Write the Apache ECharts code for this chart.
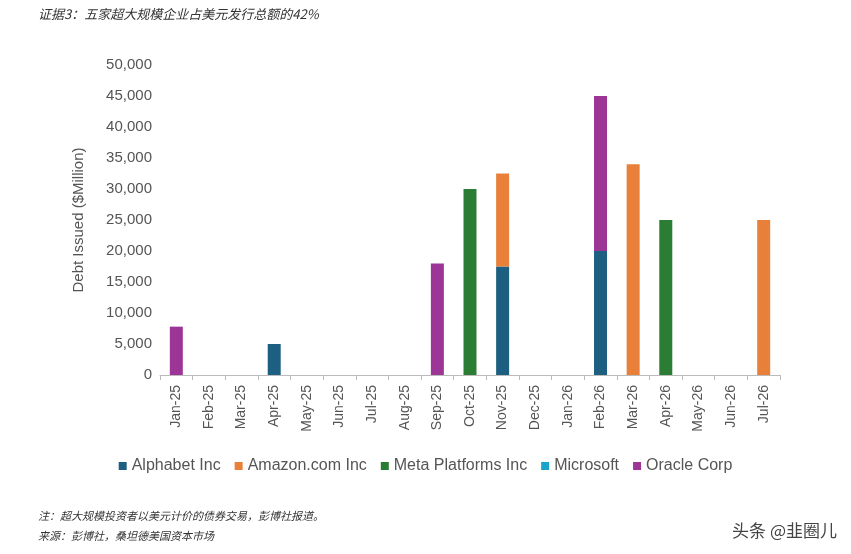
<!DOCTYPE html>
<html><head><meta charset="utf-8">
<script src="https://cdn.jsdelivr.net/npm/echarts@6/dist/echarts.min.js"></script>
<style>html,body{margin:0;padding:0;background:#fff}#c{width:851px;height:554px}</style>
</head><body><div id="c"></div>
<script>
const categories = ['Jan-25','Feb-25','Mar-25','Apr-25','May-25','Jun-25','Jul-25','Aug-25','Sep-25','Oct-25','Nov-25','Dec-25','Jan-26','Feb-26','Mar-26','Apr-26','May-26','Jun-26','Jul-26'];
const alphabet = [null,null,null,5000,null,null,null,null,null,null,17500,null,null,20000,null,null,null,null,null];
const amazon   = [null,null,null,null,null,null,null,null,null,null,15000,null,null,null,34000,null,null,null,25000];
const meta     = [null,null,null,null,null,null,null,null,null,30000,null,null,null,null,null,25000,null,null,null];
const microsoft= [null,null,null,null,null,null,null,null,null,null,null,null,null,null,null,null,null,null,null];
const oracle   = [7800,null,null,null,null,null,null,null,18000,null,null,null,null,25000,null,null,null,null,null];
const yTicks = [0,5000,10000,15000,20000,25000,30000,35000,40000,45000,50000];

const chart = echarts.init(document.getElementById('c'));
const f = 'Liberation Sans, Arial, sans-serif';
const mk = (name, data, color) => ({name, type:'bar', stack:'s', data, barWidth:13, itemStyle:{color}});
chart.setOption({
  animation:false,
  textStyle:{fontFamily:f},
  graphic:[
    {type:'text', left:38, top:8, style:{text:'证据3：五家超大规模企业占美元发行总额的42%', font:'italic 13px "Noto Sans CJK SC"', fill:'#333'}},
    {type:'text', left:38, top:510, style:{text:'注：超大规模投资者以美元计价的债券交易，彭博社报道。', font:'italic 11px "Noto Sans CJK SC"', fill:'#333'}},
    {type:'text', left:38, top:530, style:{text:'来源：彭博社，桑坦德美国资本市场', font:'italic 11px "Noto Sans CJK SC"', fill:'#333'}},
    {type:'text', right:14, top:522, style:{text:'头条 @韭圈儿', font:'17px "Noto Sans CJK SC"', fill:'#444'}}
  ],
  legend:{bottom:75, left:'center', itemWidth:8, itemHeight:8, itemGap:14, icon:'rect',
    textStyle:{fontSize:16, color:'#555', fontFamily:f},
    data:['Alphabet Inc','Amazon.com Inc','Meta Platforms Inc','Microsoft','Oracle Corp']},
  grid:{left:160, right:71, top:65, bottom:179},
  xAxis:{type:'category', data:categories,
    axisLine:{lineStyle:{color:'#bbb'}}, axisTick:{show:true, lineStyle:{color:'#bbb'}},
    axisLabel:{rotate:90, fontSize:14, color:'#555', margin:10}},
  yAxis:{type:'value', min:0, max:50000, interval:5000,
    name:'Debt Issued ($Million)', nameLocation:'middle', nameGap:74, nameTextStyle:{fontSize:15, color:'#555'},
    axisLine:{show:false}, axisTick:{show:false}, splitLine:{show:false},
    axisLabel:{fontSize:15, color:'#555', formatter:v=>v.toLocaleString('en-US')}},
  series:[
    mk('Alphabet Inc', alphabet, '#1d5f80'),
    mk('Amazon.com Inc', amazon, '#e8803a'),
    mk('Meta Platforms Inc', meta, '#2a7d33'),
    mk('Microsoft', microsoft, '#1aa6c9'),
    mk('Oracle Corp', oracle, '#9c3596')
  ]
});
</script></body></html>
